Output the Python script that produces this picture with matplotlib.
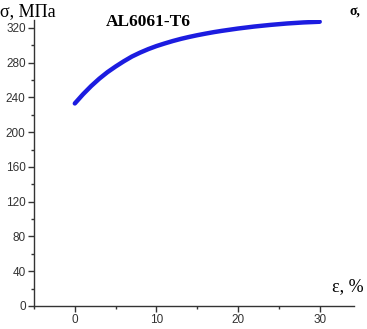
import matplotlib
matplotlib.use("Agg")
import matplotlib.pyplot as plt
from matplotlib.ticker import MultipleLocator

strain = [0, 1, 2, 3, 4, 5, 6, 7, 8, 9, 10, 11, 12, 13, 14, 15, 16, 17, 18,
          20, 22, 24, 26, 28, 30]
stress = [233, 243.5, 253, 261.5, 269, 275.5, 281.5, 287, 291.5, 295.5, 299,
          302, 304.8, 307.3, 309.5, 311.5, 313.3, 315, 316.5,
          319.2, 321.5, 323.4, 325, 326.2, 327]
xticks = [0, 10, 20, 30]
yticks = [0, 40, 80, 120, 160, 200, 240, 280, 320]

fig = plt.figure(figsize=(3.67, 3.29), dpi=100)
ax = fig.add_axes([34/367, 1-306/329, (354-34)/367, (306-20)/329])
ax.plot(strain, stress, color="#1c1ce0", lw=3.2, solid_capstyle="round",
        solid_joinstyle="round")
ax.set_xlim(-5, 34.2)
ax.set_ylim(0, 329)
ax.set_xticks(xticks)
ax.set_yticks(yticks)
ax.xaxis.set_minor_locator(MultipleLocator(5))
ax.yaxis.set_minor_locator(MultipleLocator(20))
for s in ["top", "right"]:
    ax.spines[s].set_visible(False)
for s in ["left", "bottom"]:
    ax.spines[s].set_color("#333333")
    ax.spines[s].set_linewidth(1.0)
ax.tick_params(which="major", length=4, width=1, color="#333333", labelsize=8.5,
               labelcolor="#333333", pad=2)
ax.tick_params(which="minor", length=2.5, width=1, color="#333333")
for lab in ax.get_xticklabels() + ax.get_yticklabels():
    lab.set_fontfamily("Liberation Sans")

fig.text(0, 1-12/329, "σ, МПа", fontsize=13, family="Liberation Serif", va="center", ha="left")
fig.text(106/367, 1-22/329, "AL6061-T6", fontsize=12.5, family="Liberation Serif",
         fontweight="bold", va="center", ha="left")
fig.text(349/367, 1-12/329, "σ,", fontsize=10, family="Liberation Serif",
         fontweight="bold", va="center", ha="left")
fig.text(332/367, 1-287/329, "ε, %", fontsize=13, family="Liberation Serif", va="center", ha="left")

fig.savefig("out.png", dpi=100)
